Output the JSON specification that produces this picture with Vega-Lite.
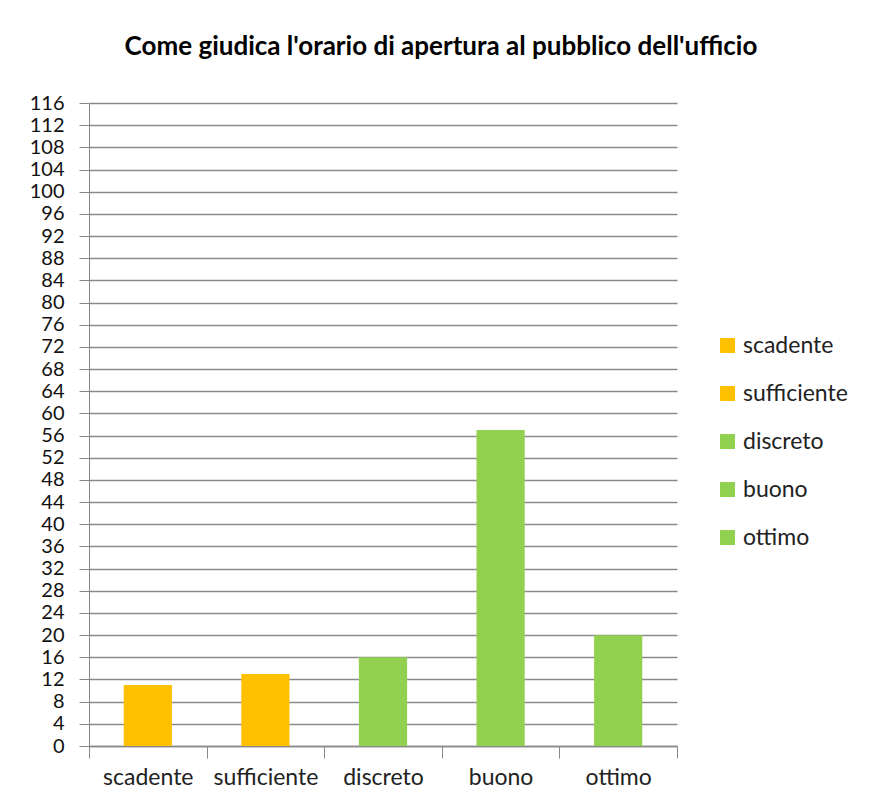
{
  "$schema": "https://vega.github.io/schema/vega-lite/v6.json",
  "autosize": {"type": "none"},
  "padding": {"left": 89, "top": 103, "right": 192, "bottom": 62},
  "width": 588,
  "height": 643,
  "background": "white",
  "title": {
    "text": "Come giudica l'orario di apertura al pubblico dell'ufficio",
    "font": "Lato",
    "fontSize": 26,
    "fontWeight": "bold",
    "color": "#000000",
    "anchor": "middle",
    "frame": "group",
    "dx": 58,
    "offset": 33
  },
  "data": {
    "values": [
      {"giudizio": "scadente", "n": 11},
      {"giudizio": "sufficiente", "n": 13},
      {"giudizio": "discreto", "n": 16},
      {"giudizio": "buono", "n": 57},
      {"giudizio": "ottimo", "n": 20}
    ]
  },
  "config": {
    "view": {"stroke": null},
    "font": "Lato"
  },
  "mark": {"type": "bar", "width": {"band": 0.41}},
  "encoding": {
    "x": {
      "field": "giudizio",
      "type": "nominal",
      "sort": null,
      "scale": {"paddingInner": 0, "paddingOuter": 0},
      "axis": {
        "orient": "bottom",
        "title": null,
        "labelAngle": 0,
        "labelFont": "Lato",
        "labelFontSize": 23,
        "labelColor": "#222222",
        "labelPadding": 8,
        "ticks": true,
        "tickBand": "extent",
        "tickSize": 12,
        "tickColor": "#888888",
        "domainColor": "#888888",
        "domainWidth": 1.3
      }
    },
    "y": {
      "field": "n",
      "type": "quantitative",
      "scale": {"domain": [0, 116], "nice": false},
      "axis": {
        "title": null,
        "values": [0,4,8,12,16,20,24,28,32,36,40,44,48,52,56,60,64,68,72,76,80,84,88,92,96,100,104,108,112,116],
        "labelOverlap": false,
        "labelFont": "Lato",
        "labelFontSize": 20,
        "labelColor": "#111111",
        "labelPadding": 15,
        "tickSize": 10,
        "tickColor": "#888888",
        "domainColor": "#888888",
        "gridColor": "#8a8a8a",
        "gridWidth": 1.3,
        "grid": true
      }
    },
    "color": {
      "field": "giudizio",
      "type": "nominal",
      "sort": null,
      "scale": {
        "domain": ["scadente", "sufficiente", "discreto", "buono", "ottimo"],
        "range": ["#FFC000", "#FFC000", "#92D050", "#92D050", "#92D050"]
      },
      "legend": {
        "title": null,
        "orient": "none",
        "legendX": 627,
        "legendY": 231,
        "symbolType": "square",
        "symbolSize": 225,
        "symbolStrokeWidth": 0,
        "labelFont": "Lato",
        "labelFontSize": 23,
        "labelColor": "#222222",
        "labelOffset": 4,
        "rowPadding": 24
      }
    }
  }
}
